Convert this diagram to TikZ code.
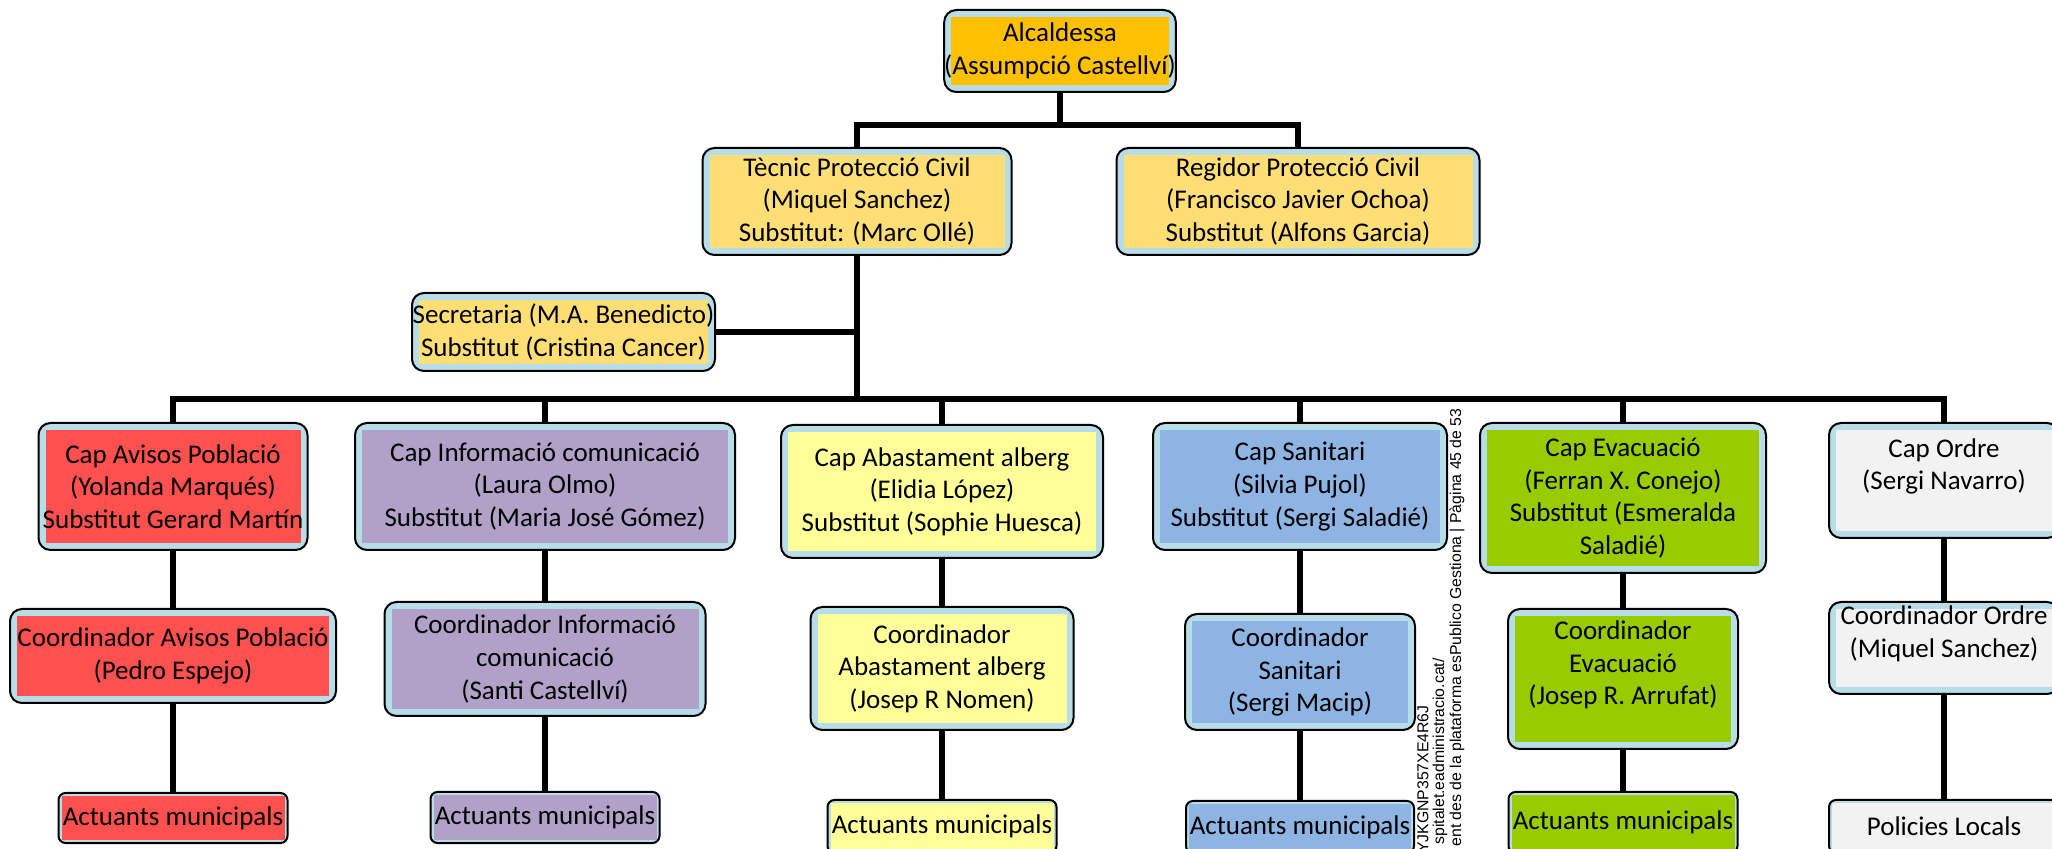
\documentclass[tikz,border=0pt]{standalone}
\usepackage{fontspec}
\setmainfont{Carlito}
\newfontfamily\wmfont{Liberation Sans}
\usepackage{xcolor}
\usetikzlibrary{positioning}

\definecolor{frame}{HTML}{B7DEE8}
\definecolor{colAlc}{HTML}{FFC000}
\definecolor{colGold}{HTML}{FFDE75}
\definecolor{colAvis}{HTML}{FF5050}
\definecolor{colInfo}{HTML}{B1A0C7}
\definecolor{colAbast}{HTML}{FFFF99}
\definecolor{colSanit}{HTML}{8DB4E2}
\definecolor{colEvac}{HTML}{99CC00}
\definecolor{colOrdre}{HTML}{F2F2F2}

\begin{document}
\begin{tikzpicture}[x=0.5pt,y=-0.5pt,
  basebox/.style={draw, line width=1pt, fill=frame, inner sep=0pt, align=center,
    font=\fontsize{13.5}{16.3}\selectfont},
  fillin/.style 2 args={path picture={\fill[#1, sharp corners]
      ([shift={(#2,-#2)}]path picture bounding box.north west) rectangle
      ([shift={(-#2,#2)}]path picture bounding box.south east);}},
  orgbox/.style={basebox, rounded corners=6pt, fillin={#1}{3.5pt}},
  actbox/.style={basebox, rounded corners=3.5pt, fillin={#1}{1.5pt}},
  link/.style={line width=3pt},
  wm/.style={rotate=90, anchor=east, inner sep=0pt, font=\wmfont\fontsize{7.9}{9}\selectfont}]
\useasboundingbox (0,0) rectangle (2052,849);

% top
\node[orgbox=colAlc, minimum width=115pt, minimum height=41pt] (alc) at (1060,51)
  {Alcaldessa\\(Assumpció Castellví)};
\node[orgbox=colGold, minimum width=154.5pt, minimum height=53.5pt] (tec) at (857,201.5)
  {Tècnic Protecció Civil\\(Miquel Sanchez)\\Substitut: (Marc Ollé)};
\node[orgbox=colGold, minimum width=181.5pt, minimum height=53.5pt] (reg) at (1298,201.5)
  {Regidor Protecció Civil\\(Francisco Javier Ochoa)\\Substitut (Alfons Garcia)};
\node[orgbox=colGold, minimum width=151.5pt, minimum height=39pt] (sec) at (563.5,332)
  {Secretaria (M.A. Benedicto)\\Substitut (Cristina Cancer)};

% caps
\node[orgbox=colAvis, minimum width=134.5pt, minimum height=63.5pt] (cAvis) at (173,486.5)
  {Cap Avisos Població\\(Yolanda Marqués)\\Substitut Gerard Martín};
\node[orgbox=colInfo, minimum width=190pt, minimum height=63.5pt] (cInfo) at (545,486.5)
  {Cap Informació comunicació\\(Laura Olmo)\\Substitut (Maria José Gómez)};
\node[orgbox=colAbast, minimum width=161pt, minimum height=66.5pt] (cAbast) at (942,491.5)
  {Cap Abastament alberg\\(Elidia López)\\Substitut (Sophie Huesca)};
\node[orgbox=colSanit, minimum width=147pt, minimum height=63.5pt] (cSanit) at (1300,486.5)
  {Cap Sanitari\\(Silvia Pujol)\\Substitut (Sergi Saladié)};
\node[orgbox=colEvac, minimum width=143pt, minimum height=75pt] (cEvac) at (1623,498)
  {Cap Evacuació\\(Ferran X. Conejo)\\Substitut (Esmeralda\\Saladié)};
\node[orgbox=colOrdre, minimum width=115pt, minimum height=57.5pt] (cOrdre) at (1944,480.5)
  {Cap Ordre\\(Sergi Navarro)\\~};

% coordinadors
\node[orgbox=colAvis, minimum width=163pt, minimum height=47pt] (dAvis) at (173,656)
  {Coordinador Avisos Població\\(Pedro Espejo)};
\node[orgbox=colInfo, minimum width=160.5pt, minimum height=57pt] (dInfo) at (545,659)
  {Coordinador Informació\\comunicació\\(Santi Castellví)};
\node[orgbox=colAbast, minimum width=131.5pt, minimum height=61.5pt] (dAbast) at (942,668.5)
  {Coordinador\\Abastament alberg\\(Josep R Nomen)};
\node[orgbox=colSanit, minimum width=115pt, minimum height=58pt] (dSanit) at (1300,672)
  {Coordinador\\Sanitari\\(Sergi Macip)};
\node[orgbox=colEvac, minimum width=115pt, minimum height=70pt] (dEvac) at (1623,679)
  {Coordinador\\Evacuació\\(Josep R. Arrufat)\\~};
\node[orgbox=colOrdre, minimum width=115pt, minimum height=46pt] (dOrdre) at (1944,648)
  {Coordinador Ordre\\(Miquel Sanchez)\\~};

% actuants
\node[actbox=colAvis, minimum width=114.5pt, minimum height=25pt] (aAvis) at (173,818) {Actuants municipals};
\node[actbox=colInfo, minimum width=114.5pt, minimum height=25.5pt] (aInfo) at (545,817.5) {Actuants municipals};
\node[actbox=colAbast, minimum width=114.5pt, minimum height=26.5pt] (aAbast) at (942,826.5) {Actuants municipals};
\node[actbox=colSanit, minimum width=114pt, minimum height=26pt] (aSanit) at (1300,827) {Actuants municipals};
\node[actbox=colEvac, minimum width=114.5pt, minimum height=30.5pt] (aEvac) at (1623,822.5) {Actuants municipals};
\node[actbox=colOrdre, minimum width=115pt, minimum height=26.5pt] (aOrdre) at (1944,826.5) {Policies Locals};

% lines
\coordinate (top) at (1060,125);
\coordinate (bus) at (857,399);
\draw[link] (alc) -- (top);
\draw[link] (tec) |- (top) -| (reg);
\draw[link] (tec) -- (bus);
\draw[link] (sec) -- (sec -| bus);
\draw[link] (cAvis) |- (bus) -| (cOrdre);
\foreach \n in {Info,Abast,Sanit,Evac}
  \draw[link] (c\n) -- (c\n |- bus);
\foreach \n in {Avis,Info,Abast,Sanit,Evac,Ordre}
  \draw[link] (c\n) -- (d\n) -- (a\n);

% side stamp
\node[wm] (wm1) at (1423,705) {YJKGNP357XE4R6J};
\node[wm] (wm2) at (1440,658) {spitalet.eadministracio.cat/};
\node[wm] (wm3) at (1457,408) {ent des de la plataforma esPublico Gestiona | Pàgina 45 de 53};
\end{tikzpicture}
\end{document}
